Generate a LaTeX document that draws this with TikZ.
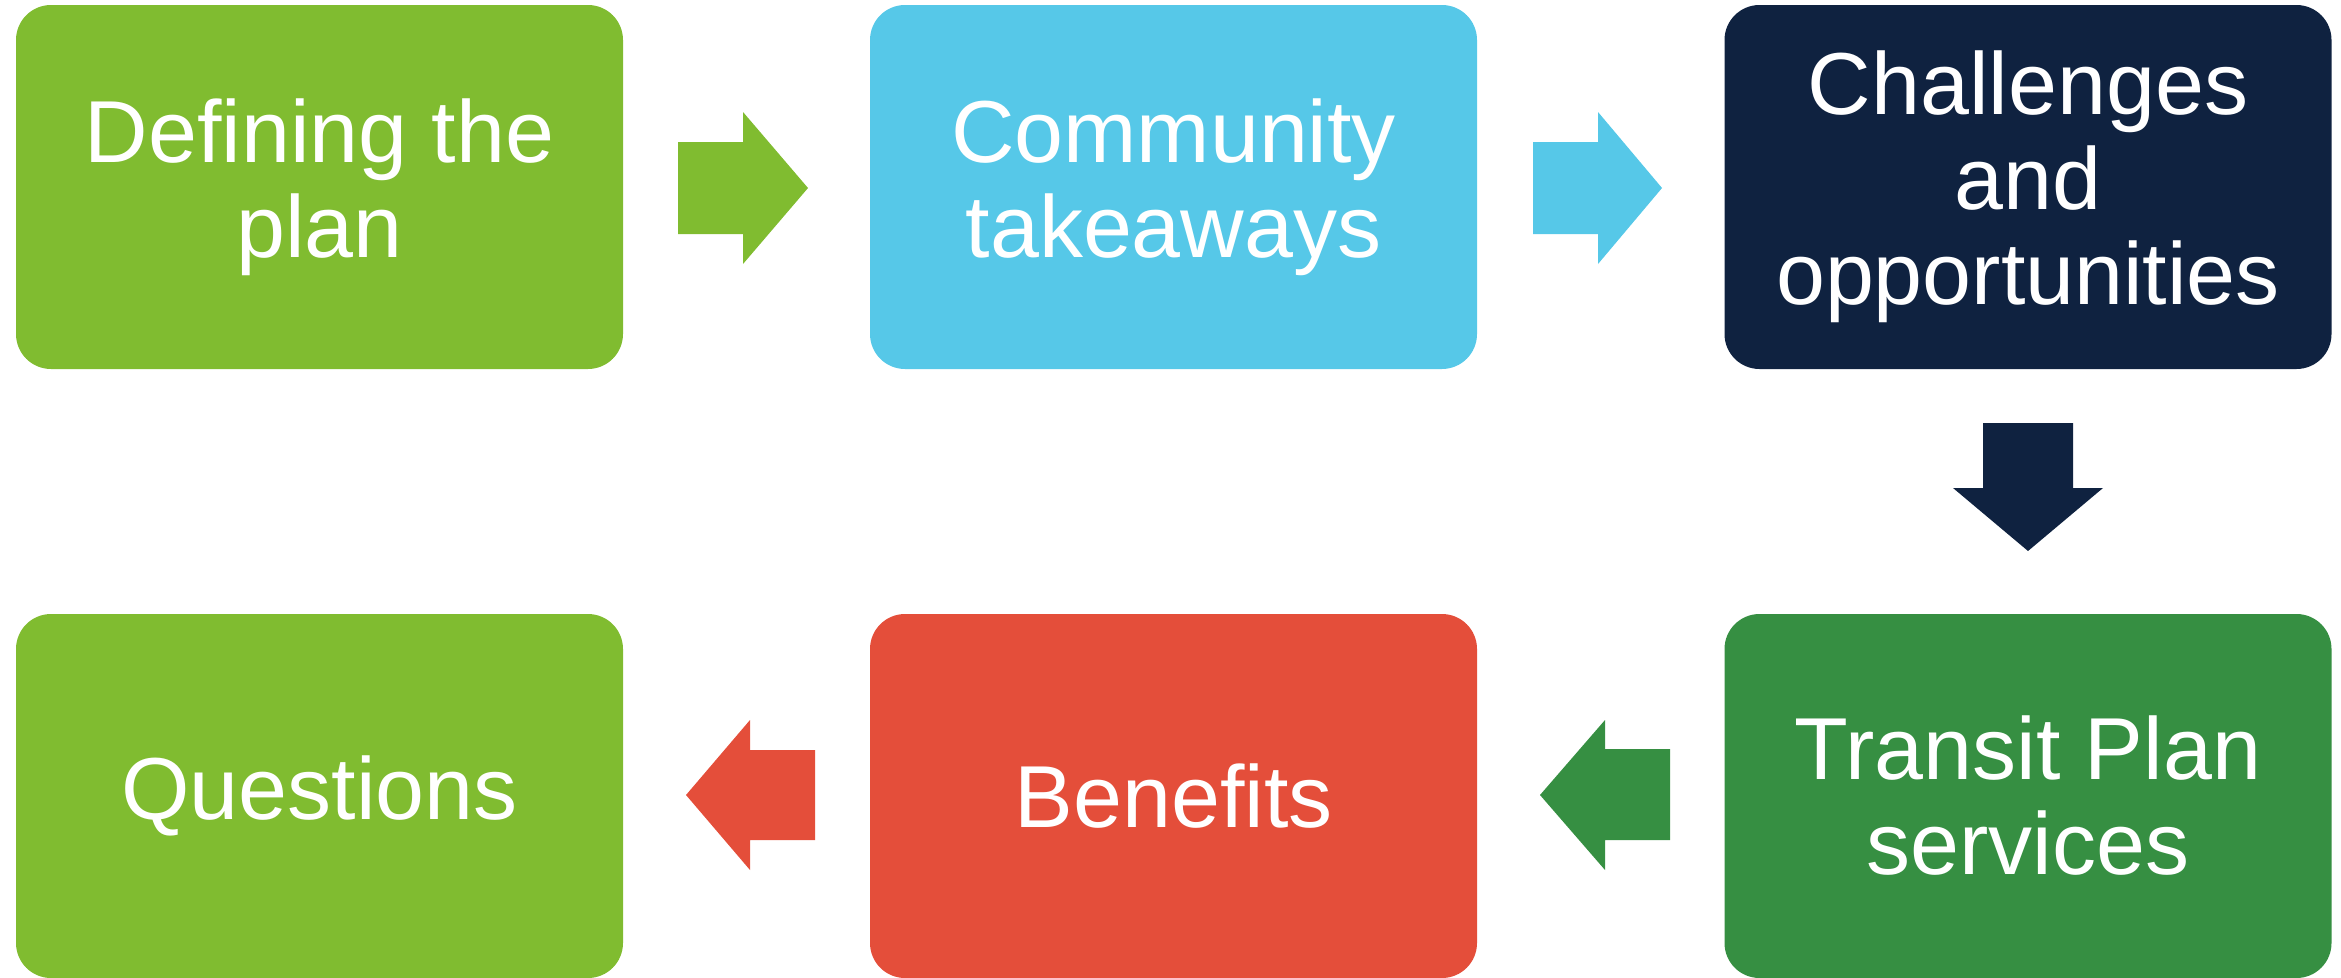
\documentclass[tikz,border=0pt]{standalone}
\usepackage{fontspec}
\setmainfont{Liberation Sans}
\definecolor{cgreen}{HTML}{80BC30}
\definecolor{cblue}{HTML}{56C8E8}
\definecolor{cnavy}{HTML}{0F2240}
\definecolor{cdgreen}{HTML}{368F42}
\definecolor{cred}{HTML}{E44E3A}
\begin{document}
\begin{tikzpicture}[x=1pt,y=-1pt,
  box/.style={minimum width=607pt,minimum height=364pt,inner sep=0pt,
    rounded corners=35pt,text=white,align=center,
    font=\fontsize{88}{95}\selectfont},
  barrow/.style={fill=#1,draw=none}]
\useasboundingbox (0,0) rectangle (2341,977);
\node[box,fill=cgreen] (b1) at (319.5,187) {Defining the\\plan};
\node[box,fill=cblue] (b2) at (1173.5,187) {Community\\takeaways};
\node[box,fill=cnavy] (b3) at (2028,187) {Challenges\\and\\opportunities};
\node[box,fill=cdgreen] (b4) at (2028,796) {Transit Plan\\services};
\node[box,fill=cred] (b5) at (1173.5,796) {Benefits};
\node[box,fill=cgreen] (b6) at (319.5,796) {Questions};
\fill[barrow=cgreen] (678,142) -- (743,142) -- (743,112) -- (808,188) -- (743,264) -- (743,234) -- (678,234) -- cycle;
\fill[barrow=cblue] (1533,142) -- (1598,142) -- (1598,112) -- (1662,188) -- (1598,264) -- (1598,234) -- (1533,234) -- cycle;
\fill[barrow=cnavy] (1983,423) -- (2073,423) -- (2073,488) -- (2103,488) -- (2028,551) -- (1953,488) -- (1983,488) -- cycle;
\fill[barrow=cdgreen] (1670,749) -- (1605,749) -- (1605,720) -- (1540,795) -- (1605,870) -- (1605,840) -- (1670,840) -- cycle;
\fill[barrow=cred] (815,750) -- (750,750) -- (750,720) -- (686,795) -- (750,870) -- (750,840) -- (815,840) -- cycle;
\end{tikzpicture}
\end{document}
